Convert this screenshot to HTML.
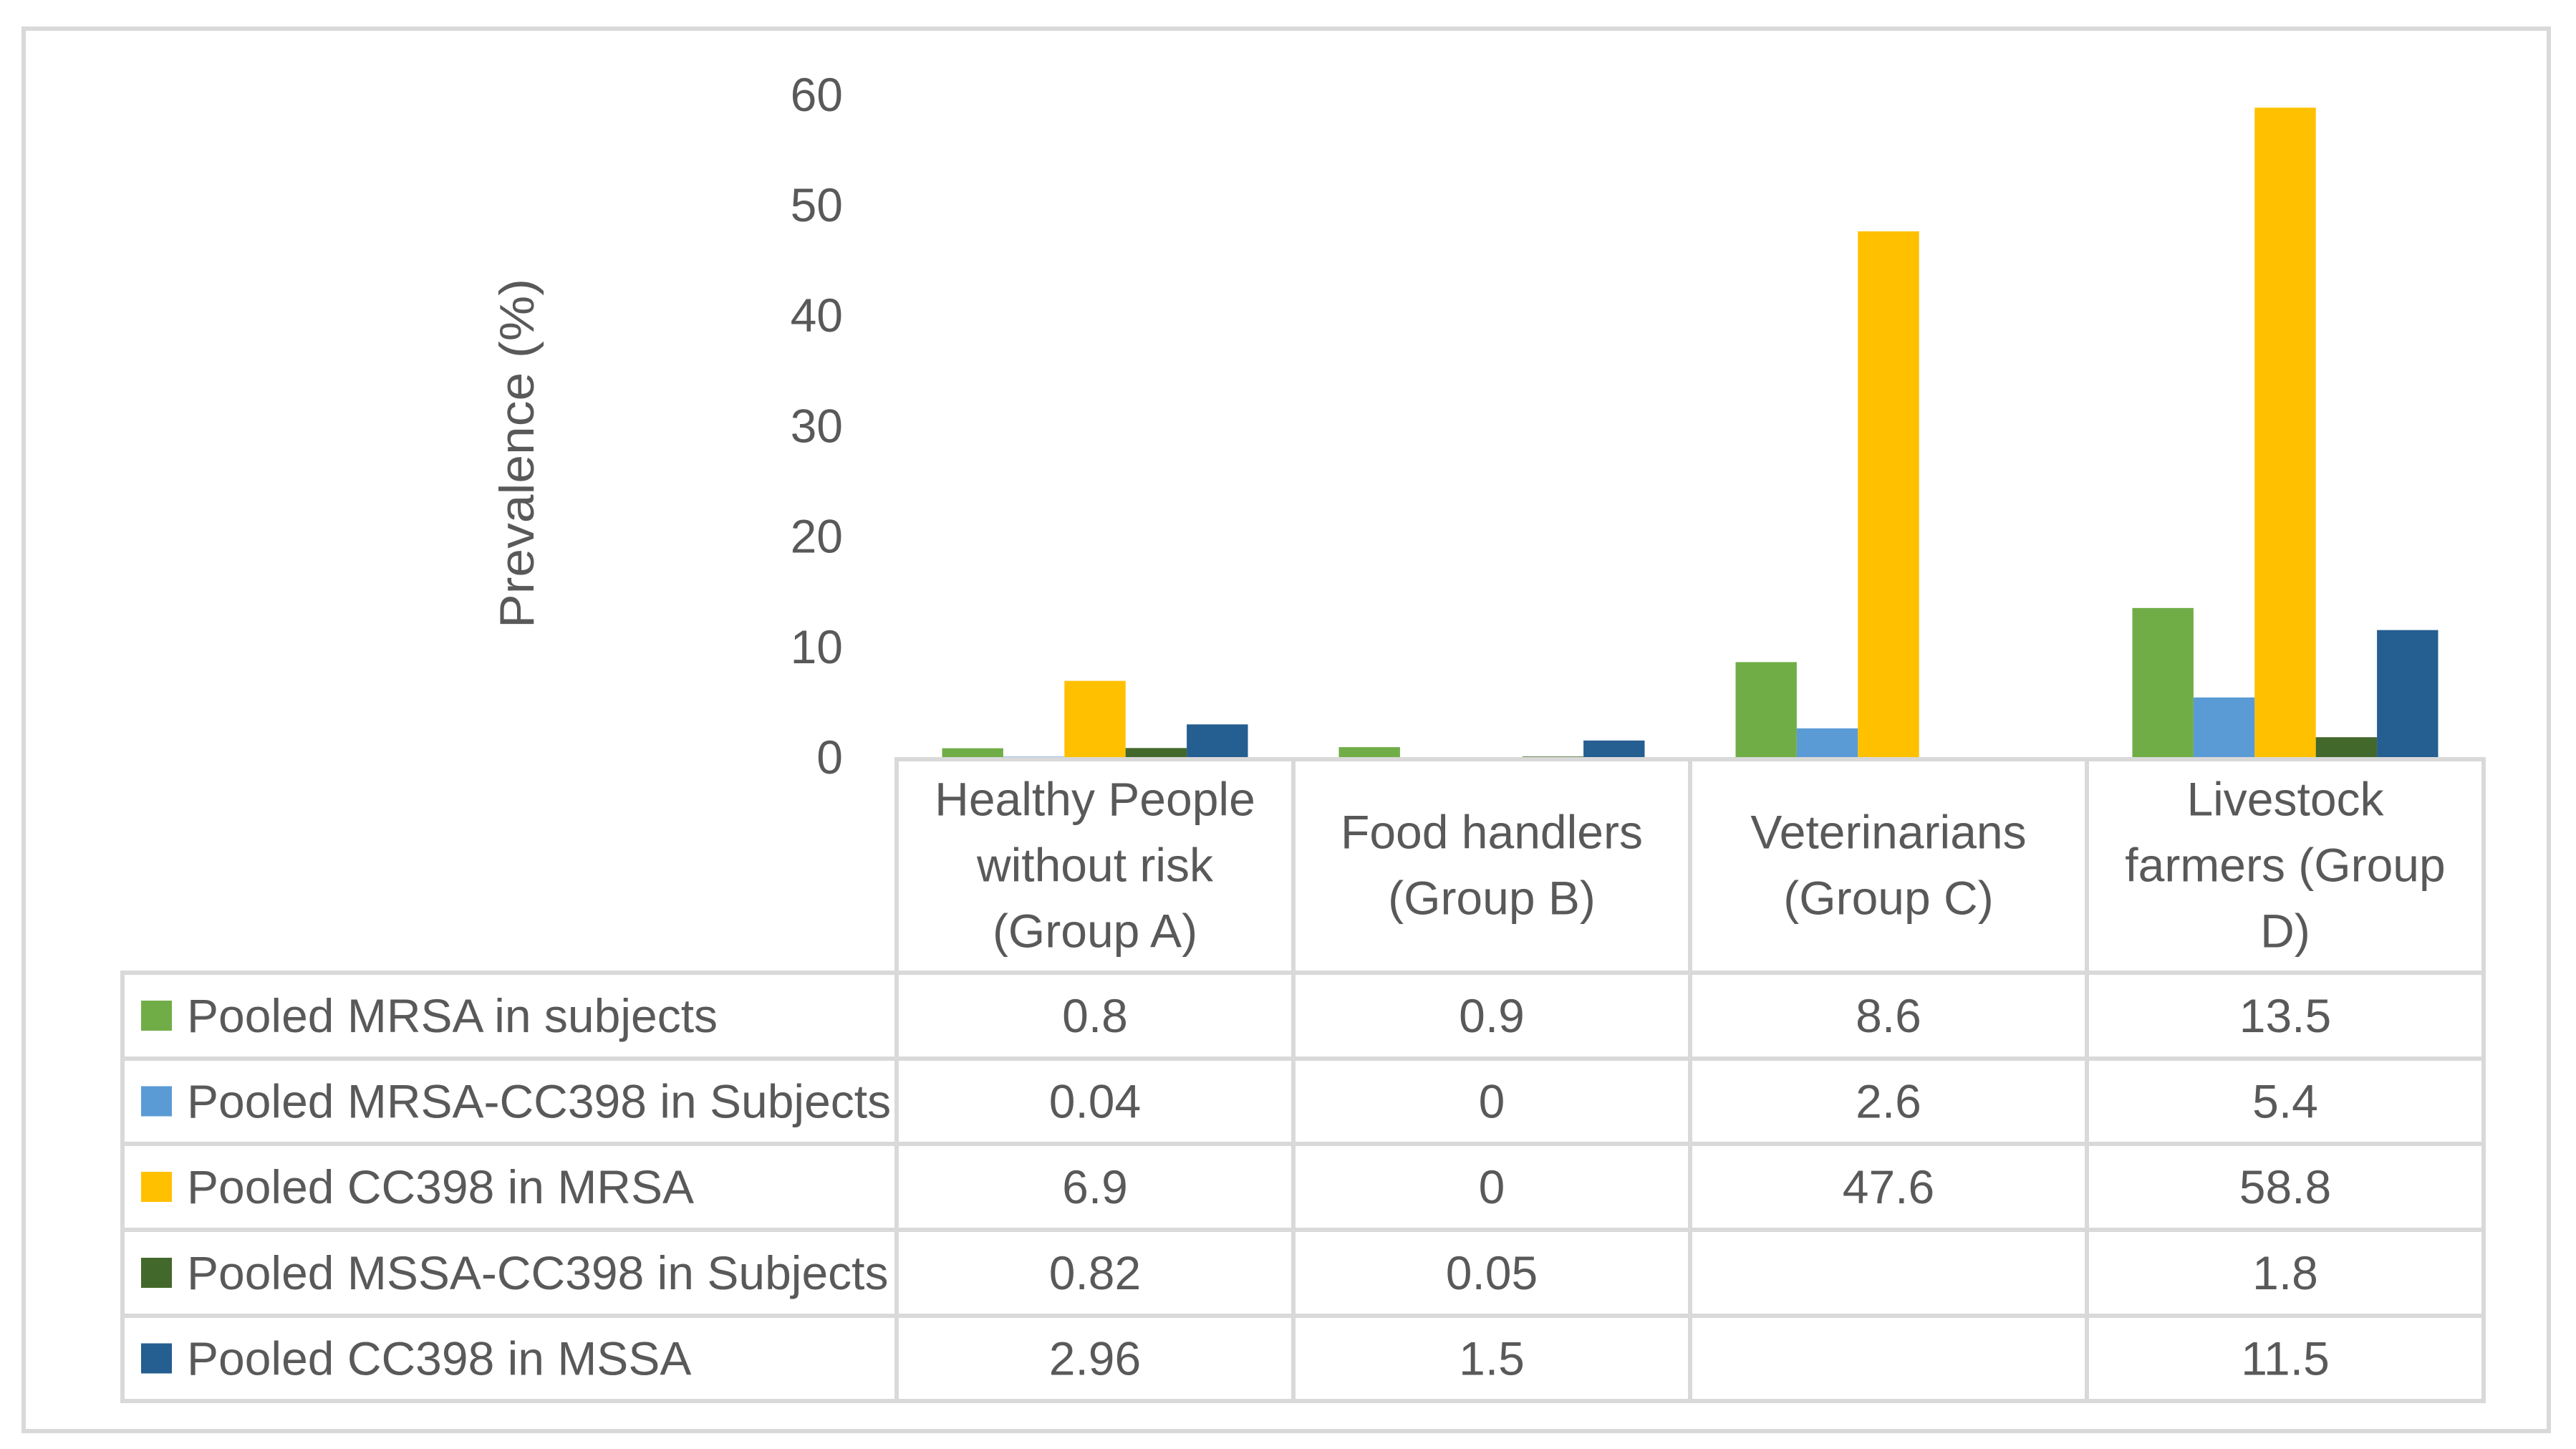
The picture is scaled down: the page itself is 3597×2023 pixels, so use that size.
<!DOCTYPE html>
<html><head><meta charset="utf-8"><style>
html,body{margin:0;padding:0;background:#fff;}
svg{display:block;}
text{font-family:"Liberation Sans",sans-serif;fill:#595959;}
</style></head><body>
<svg id="chart" width="3597" height="2023" viewBox="0 0 3597 2023" xmlns="http://www.w3.org/2000/svg">
<rect x="33" y="40" width="3526" height="1958" fill="#fff" stroke="#d9d9d9" stroke-width="6"/>
<g id="bars"></g>
<g id="yaxis"></g>
<text transform="translate(745,633) rotate(-90)" text-anchor="middle" font-size="68" textLength="488" lengthAdjust="spacingAndGlyphs">Prevalence (%)</text>
<g id="table"></g>
</svg>
<script>
const categories = [["Healthy People","without risk","(Group A)"],["Food handlers","(Group B)"],["Veterinarians","(Group C)"],["Livestock","farmers (Group","D)"]];
const seriesNames = ["Pooled MRSA in subjects","Pooled MRSA-CC398 in Subjects","Pooled CC398 in MRSA","Pooled MSSA-CC398 in Subjects","Pooled CC398 in MSSA"];
const mrsaSubjects = [0.8,0.9,8.6,13.5];
const mrsaCC398Subjects = [0.04,0,2.6,5.4];
const cc398InMRSA = [6.9,0,47.6,58.8];
const mssaCC398Subjects = [0.82,0.05,null,1.8];
const cc398InMSSA = [2.96,1.5,null,11.5];
const labelsMrsaSubjects = ["0.8","0.9","8.6","13.5"];
const labelsMrsaCC398 = ["0.04","0","2.6","5.4"];
const labelsCC398MRSA = ["6.9","0","47.6","58.8"];
const labelsMssaCC398 = ["0.82","0.05","","1.8"];
const labelsCC398MSSA = ["2.96","1.5","","11.5"];
const yTicks = [0,10,20,30,40,50,60];

const series = [mrsaSubjects,mrsaCC398Subjects,cc398InMRSA,mssaCC398Subjects,cc398InMSSA];
const seriesLabels = [labelsMrsaSubjects,labelsMrsaCC398,labelsCC398MRSA,labelsMssaCC398,labelsCC398MSSA];
const colors = ["#70ad47","#5b9bd5","#ffc000","#43682b","#255e91"];
const NS="http://www.w3.org/2000/svg";
const baseY=1057, perUnit=15.42;
const colX0=1252, colW=554, tableLeft=171;
const rowTops=[1358,1478,1597,1717,1837,1956];
const FS=66;
function y(v){return baseY - v*perUnit;}
function colLeft(i){return colX0 + i*colW;}
function mk(tag,attrs,parent){const e=document.createElementNS(NS,tag);for(const k in attrs)e.setAttribute(k,attrs[k]);parent.appendChild(e);return e;}

const bars=document.getElementById('bars');
const barW=85.4;
series.forEach((s,si)=>{
  s.forEach((v,ci)=>{
    if(v===null) return;
    const cx=colLeft(ci)+colW/2;
    const x=cx-2.5*barW+si*barW;
    const r=mk('rect',{x:x,y:y(v),width:barW,height:baseY-y(v),fill:colors[si]},bars);
    
    
  });
});

const ya=document.getElementById('yaxis');
yTicks.forEach(t=>{
  const tx=mk('text',{x:1177,y:y(t)+23,'text-anchor':'end','font-size':FS},ya);
  tx.textContent=String(t);
  
  
});

const tb=document.getElementById('table');
const lc="#d9d9d9", lw=6;
mk('line',{x1:colLeft(0),y1:baseY+3,x2:colLeft(4),y2:baseY+3,stroke:lc,'stroke-width':lw},tb);
for(let i=0;i<=4;i++){
  const l=mk('line',{x1:colLeft(i),y1:baseY,x2:colLeft(i),y2:rowTops[5]+3,stroke:lc,'stroke-width':lw},tb);
  
  
}
mk('line',{x1:tableLeft,y1:rowTops[0],x2:tableLeft,y2:rowTops[5]+3,stroke:lc,'stroke-width':lw},tb);
rowTops.forEach(ry=>{
  const l=mk('line',{x1:tableLeft-3,y1:ry,x2:colLeft(4)+3,y2:ry,stroke:lc,'stroke-width':lw},tb);
  
  
});
const headMid=(baseY+rowTops[0])/2;
categories.forEach((lines,ci)=>{
  const cx=colLeft(ci)+colW/2;
  const n=lines.length;
  lines.forEach((ln,li)=>{
    const cy=headMid+(li-(n-1)/2)*92;
    const t=mk('text',{x:cx,y:cy+23,'text-anchor':'middle','font-size':FS},tb);
    t.textContent=ln;
    
    
  });
});
seriesNames.forEach((nm,si)=>{
  const mid=(rowTops[si]+rowTops[si+1])/2;
  const m=mk('rect',{x:197,y:mid-21,width:43,height:42,fill:colors[si]},tb);
  
  
  const t=mk('text',{x:261,y:mid+23,'font-size':FS},tb);
  t.textContent=nm;
  
  
  seriesLabels[si].forEach((lab,ci)=>{
    if(!lab) return;
    const v=mk('text',{x:colLeft(ci)+colW/2,y:mid+23,'text-anchor':'middle','font-size':FS},tb);
    v.textContent=lab;
    
    
  });
});
</script>
</body></html>
